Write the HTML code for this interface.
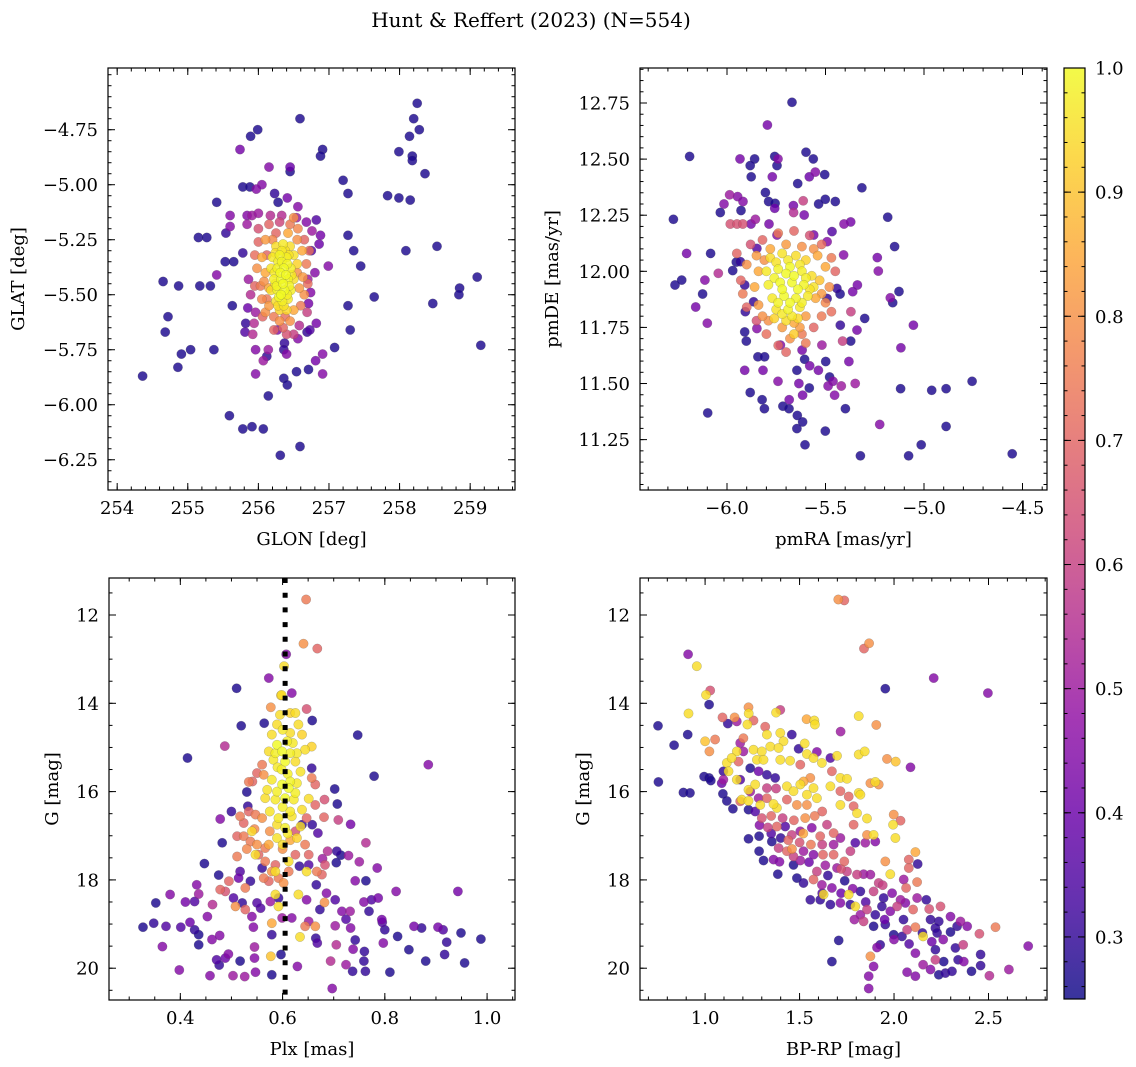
<!DOCTYPE html>
<html><head><meta charset="utf-8">
<style>
html,body{margin:0;padding:0;background:#fff;}
svg{display:block;font-family:"DejaVu Serif","Liberation Serif",serif;}
</style></head>
<body>
<svg id="fig" width="1136" height="1067" viewBox="0 0 1136 1067" xmlns="http://www.w3.org/2000/svg">
<text x="531" y="27" font-size="20" text-anchor="middle">Hunt &amp; Reffert (2023) (N=554)</text>
</svg>
<script>
// ---------- data: [x, y, membership probability] ----------
const skyStars = [[258.25,-4.63,.27],[256.59,-4.70,.27],[258.20,-4.70,.27],[258.28,-4.75,.27],[255.99,-4.75,.27],[255.89,-4.78,.27],[258.14,-4.78,.27],[255.74,-4.84,.42],[256.91,-4.84,.27],[256.88,-4.87,.27],[257.99,-4.85,.27],[258.18,-4.87,.27],[258.18,-4.89,.27],[256.15,-4.92,.45],[256.45,-4.92,.4],[256.45,-4.94,.27],[258.36,-4.95,.27],[257.20,-4.98,.27],[255.78,-5.01,.27],[255.88,-5.01,.27],[256.05,-5.00,.45],[255.97,-5.02,.45],[257.27,-5.04,.27],[256.23,-5.04,.3],[256.41,-5.06,.42],[257.83,-5.05,.27],[257.99,-5.06,.27],[258.15,-5.07,.27],[255.41,-5.08,.27],[256.28,-5.08,.27],[256.56,-5.10,.45],[255.60,-5.14,.45],[255.60,-5.19,.45],[257.27,-5.23,.27],[255.15,-5.24,.27],[255.27,-5.24,.27],[255.54,-5.22,.3],[257.35,-5.30,.27],[258.09,-5.30,.27],[258.53,-5.28,.27],[255.53,-5.35,.27],[255.65,-5.35,.27],[255.41,-5.41,.45],[256.99,-5.37,.45],[257.45,-5.37,.27],[254.65,-5.44,.27],[254.87,-5.46,.27],[255.17,-5.46,.27],[255.32,-5.46,.27],[259.10,-5.42,.27],[258.85,-5.47,.27],[258.84,-5.50,.27],[257.64,-5.51,.27],[258.47,-5.54,.27],[255.63,-5.55,.27],[257.27,-5.55,.27],[254.72,-5.60,.27],[254.68,-5.67,.27],[257.30,-5.66,.27],[254.91,-5.77,.27],[255.04,-5.75,.27],[255.37,-5.75,.27],[259.15,-5.73,.27],[254.86,-5.83,.27],[254.36,-5.87,.27],[257.08,-5.74,.27],[256.91,-5.77,.45],[256.81,-5.80,.42],[256.71,-5.84,.27],[256.54,-5.85,.27],[256.91,-5.86,.45],[255.96,-5.86,.45],[256.36,-5.88,.27],[256.41,-5.91,.27],[256.14,-5.96,.27],[255.59,-6.05,.27],[255.78,-6.11,.27],[255.91,-6.10,.27],[256.07,-6.11,.27],[256.59,-6.19,.27],[256.31,-6.23,.27],
[255.96,-5.75,.45],[256.14,-5.75,.5],[256.07,-5.80,.5],[256.12,-5.78,.3],[256.37,-5.72,.3],[256.40,-5.77,.45],[256.36,-5.75,.3],[256.56,-5.70,.45],[256.69,-5.67,.3],[256.73,-5.66,.35],[256.82,-5.63,.42],[255.82,-5.63,.3],[255.81,-5.67,.35],[255.92,-5.68,.55],[255.94,-5.63,.55],[255.96,-5.58,.5],[255.85,-5.56,.4],[256.71,-5.54,.42],[256.74,-5.49,.45],[256.75,-5.30,.35],[256.86,-5.27,.4],[256.88,-5.23,.42],[256.82,-5.16,.35],[255.78,-5.31,.3],[255.91,-5.14,.5],[255.84,-5.18,.5],[255.84,-5.14,.45],[256.0,-5.13,.5],[256.17,-5.14,.55],[256.33,-5.14,.55],[256.54,-5.15,.5],[256.68,-5.17,.45],[256.76,-5.21,.5],[255.86,-5.43,.5],[255.89,-5.5,.55],[256.8,-5.4,.45],[256.7,-5.43,.5],[256.69,-5.58,.6],[256.58,-5.64,.55],[256.27,-5.66,.45],[256.5,-5.68,.6],
[256.0,-5.2,.65],[256.15,-5.18,.7],[256.3,-5.17,.62],[256.45,-5.18,.75],[256.56,-5.2,.78],[256.65,-5.25,.7],[256.72,-5.3,.72],[256.0,-5.26,.7],[255.95,-5.32,.72],[255.98,-5.38,.8],[256.03,-5.46,.75],[255.95,-5.46,.7],[256.05,-5.52,.78],[256.1,-5.58,.8],[256.15,-5.55,.82],[256.22,-5.6,.75],[256.3,-5.62,.8],[256.38,-5.6,.72],[256.45,-5.62,.8],[256.35,-5.65,.7],[256.4,-5.68,.65],[256.22,-5.66,.7],[256.6,-5.55,.75],[256.65,-5.5,.8],[256.7,-5.45,.72],[256.63,-5.42,.82],[256.68,-5.36,.75],[256.62,-5.3,.85],[256.55,-5.25,.8],[256.1,-5.25,.82],[256.05,-5.33,.85],[256.1,-5.4,.85],[256.15,-5.47,.85],[256.12,-5.32,.7],[256.5,-5.57,.85],[256.42,-5.22,.85],[256.25,-5.22,.7],[256.06,-5.6,.7],[256.5,-5.15,.8],[256.08,-5.44,.8],[256.58,-5.47,.82],[256.2,-5.25,.78],[256.55,-5.4,.8],[256.12,-5.52,.75],
[256.25,-5.28,.95],[256.35,-5.27,.97],[256.45,-5.28,.95],[256.2,-5.33,.97],[256.3,-5.32,.99],[256.4,-5.33,.98],[256.5,-5.32,.96],[256.55,-5.36,.93],[256.18,-5.38,.96],[256.27,-5.38,.99],[256.36,-5.38,1],[256.46,-5.38,.98],[256.22,-5.43,.98],[256.32,-5.43,1],[256.42,-5.43,.99],[256.5,-5.43,.95],[256.18,-5.48,.95],[256.27,-5.48,.99],[256.37,-5.48,1],[256.46,-5.48,.98],[256.25,-5.53,.95],[256.34,-5.53,.98],[256.42,-5.52,.97],[256.3,-5.57,.93],[256.4,-5.57,.94],[256.38,-5.3,.96],[256.24,-5.45,.97],[256.44,-5.46,.99],[256.33,-5.35,.99],[256.29,-5.51,1],[256.33,-5.3,.97],[256.28,-5.35,.98],[256.41,-5.36,.99],[256.23,-5.4,.97],[256.31,-5.4,1],[256.39,-5.41,1],[256.47,-5.41,.97],[256.26,-5.46,.99],[256.35,-5.45,1],[256.41,-5.5,.98],[256.32,-5.5,1],[256.36,-5.55,.96],[256.28,-5.55,.95],[256.43,-5.32,.96],[256.24,-5.31,.95]];

const pmStars = [[-5.670,12.753,.27],[-5.795,12.652,.42],[-6.19,12.512,.27],[-5.934,12.501,.42],[-5.86,12.501,.27],[-5.882,12.471,.27],[-5.877,12.421,.27],[-5.758,12.512,.27],[-5.741,12.501,.45],[-5.746,12.471,.27],[-5.77,12.421,.42],[-5.599,12.531,.27],[-5.562,12.501,.27],[-5.504,12.431,.27],[-5.641,12.391,.27],[-5.582,12.421,.4],[-5.552,12.442,.45],[-5.315,12.372,.27],[-5.805,12.351,.27],[-5.789,12.311,.27],[-5.756,12.303,.27],[-5.758,12.281,.4],[-5.987,12.341,.5],[-5.946,12.333,.45],[-5.919,12.311,.45],[-6.015,12.3,.45],[-6.034,12.262,.27],[-5.929,12.271,.27],[-6.272,12.232,.27],[-5.663,12.293,.42],[-5.613,12.314,.6],[-5.662,12.262,.55],[-5.608,12.251,.42],[-5.501,12.321,.27],[-5.45,12.311,.27],[-5.535,12.3,.27],[-5.184,12.241,.27],[-5.983,12.211,.65],[-5.949,12.211,.65],[-5.92,12.211,.65],[-5.878,12.211,.42],[-5.856,12.232,.5],[-5.787,12.211,.42],[-5.372,12.22,.42],[-5.406,12.211,.45],[-5.149,12.11,.27],[-6.205,12.08,.42],[-6.083,12.08,.27],[-5.237,12.061,.42],[-5.232,12.001,.45],[-6.044,11.991,.55],[-5.971,12.003,.27],[-5.953,12.041,.27],[-6.264,11.939,.27],[-6.23,11.961,.27],[-6.112,11.961,.45],[-6.124,11.899,.27],[-6.159,11.841,.42],[-6.1,11.769,.45],[-5.127,11.91,.27],[-5.171,11.882,.45],[-5.159,11.86,.27],[-5.301,11.79,.27],[-5.054,11.76,.42],[-5.117,11.659,.42],[-5.338,11.939,.42],[-5.362,11.909,.42],[-5.426,11.899,.27],[-5.371,11.82,.6],[-5.34,11.738,.42],[-5.372,11.689,.27],[-5.413,11.689,.6],[-5.91,11.73,.27],[-5.902,11.689,.27],[-5.843,11.619,.27],[-5.809,11.619,.27],[-5.91,11.559,.42],[-5.817,11.559,.42],[-5.741,11.51,.45],[-5.882,11.46,.27],[-5.822,11.428,.27],[-5.81,11.388,.27],[-5.716,11.399,.27],[-5.684,11.428,.42],[-5.685,11.388,.27],[-5.645,11.559,.27],[-5.606,11.608,.27],[-5.58,11.579,.42],[-5.499,11.598,.27],[-5.536,11.559,.42],[-5.479,11.529,.27],[-5.462,11.51,.45],[-5.487,11.489,.45],[-5.42,11.489,.5],[-5.349,11.5,.5],[-5.381,11.598,.42],[-5.635,11.5,.42],[-5.582,11.48,.27],[-5.616,11.448,.42],[-5.454,11.448,.45],[-5.399,11.388,.27],[-5.643,11.358,.27],[-5.616,11.329,.27],[-5.645,11.299,.27],[-5.501,11.288,.27],[-5.604,11.227,.27],[-5.225,11.318,.45],[-5.119,11.477,.27],[-4.961,11.47,.27],[-4.888,11.477,.27],[-4.756,11.51,.27],[-4.888,11.309,.27],[-5.014,11.227,.27],[-5.078,11.178,.27],[-5.323,11.178,.27],[-6.098,11.369,.27],[-4.552,11.187,.27],
[-5.932,12.043,.3],[-5.91,11.939,.3],[-5.865,11.864,.3],[-5.907,11.82,.3],[-5.492,11.879,.3],[-5.442,11.924,.3],[-5.425,11.76,.3],[-5.848,11.745,.45],[-5.729,11.671,.45],[-5.619,11.649,.42],[-5.518,11.671,.5],[-5.56,12.162,.42],[-5.492,12.132,.45],[-5.408,12.073,.45],[-5.467,12.177,.35],[-5.848,12.102,.35],[-5.746,12.162,.45],
[-5.88,12.12,.65],[-5.82,12.14,.7],[-5.74,12.17,.75],[-5.66,12.18,.7],[-5.58,12.16,.65],[-5.52,12.12,.72],[-5.47,12.06,.75],[-5.45,12.0,.7],[-5.48,11.93,.8],[-5.5,11.86,.78],[-5.52,11.8,.75],[-5.56,11.75,.7],[-5.62,11.72,.75],[-5.68,11.7,.8],[-5.74,11.67,.7],[-5.8,11.72,.72],[-5.85,11.78,.65],[-5.9,11.84,.7],[-5.92,11.9,.75],[-5.93,11.96,.7],[-5.9,12.03,.8],[-5.85,12.07,.82],[-5.78,12.1,.85],[-5.7,12.12,.82],[-5.62,12.11,.8],[-5.54,12.07,.85],[-5.5,12.02,.85],[-5.53,11.96,.9],[-5.55,11.88,.85],[-5.6,11.8,.82],[-5.66,11.77,.85],[-5.72,11.75,.82],[-5.79,11.78,.8],[-5.84,11.85,.82],[-5.86,11.93,.85],[-5.84,12.0,.85],[-5.6,11.68,.75],[-5.7,11.64,.7],[-5.47,11.82,.72],[-5.95,12.08,.7],[-5.81,12.05,.8],[-5.56,12.1,.8],[-5.52,11.9,.82],[-5.63,11.75,.82],[-5.82,11.8,.8],
[-5.78,12.06,.95],[-5.72,12.08,.96],[-5.65,12.07,.95],[-5.6,12.05,.93],[-5.8,12.0,.97],[-5.74,12.01,.99],[-5.68,12.02,1],[-5.62,12.0,.98],[-5.57,11.98,.95],[-5.79,11.94,.98],[-5.73,11.95,1],[-5.67,11.95,1],[-5.61,11.94,.99],[-5.56,11.93,.96],[-5.77,11.88,.97],[-5.71,11.89,1],[-5.65,11.88,.99],[-5.59,11.89,.97],[-5.75,11.83,.96],[-5.69,11.83,.99],[-5.63,11.84,.97],[-5.7,11.78,.95],[-5.64,11.79,.94],[-5.76,11.79,.93],[-5.66,11.72,.92],[-5.7,11.99,1],[-5.64,11.92,1],[-5.72,11.92,1],[-5.76,11.97,.99],[-5.66,11.98,1],[-5.6,11.97,.98],[-5.74,11.86,.99],[-5.68,11.86,1],[-5.62,11.86,.98],[-5.72,11.81,.97],[-5.67,11.8,.97],[-5.69,12.05,.97],[-5.63,12.03,.97],[-5.75,12.04,.96],[-5.58,11.92,.96]];

const plxStars = [[0.646,11.65,.75],[0.641,12.65,.8],[0.668,12.76,.7],[0.607,12.89,.45],[0.603,13.16,.95],[0.573,13.43,.45],[0.510,13.66,.27],[0.618,13.77,.45],[0.598,13.81,.95],[0.564,14.45,.27],[0.519,14.51,.27],[0.747,14.72,.27],[0.487,14.97,.55],[0.414,15.24,.27],[0.885,15.39,.45],[0.779,15.65,.27],[0.702,15.94,.27],[0.707,16.28,.27],[0.658,14.39,.27],[0.647,14.13,.65],[0.577,14.09,.8],
[0.327,19.07,.27],[0.348,18.98,.3],[0.372,19.05,.35],[0.401,19.07,.35],[0.419,18.96,.4],[0.428,19.13,.3],[0.436,19.24,.27],[0.436,19.47,.27],[0.365,19.51,.45],[0.398,20.04,.45],[0.458,20.17,.45],[0.471,19.81,.35],[0.476,19.93,.3],[0.488,19.77,.4],[0.494,19.68,.45],[0.517,19.84,.27],[0.462,19.35,.45],[0.477,19.26,.45],[0.453,18.83,.45],[0.463,18.56,.55],[0.352,18.52,.27],[0.38,18.33,.45],[0.41,18.5,.42],[0.428,18.49,.35],[0.432,18.11,.45],[0.436,18.32,.5],[0.447,17.63,.27],[0.475,17.89,.27],[0.503,20.17,.5],[0.526,20.19,.5],[0.547,20.09,.45],[0.545,19.77,.45],[0.545,19.52,.5],[0.543,19.07,.45],[0.579,20.15,.27],[0.597,19.69,.27],[0.579,19.24,.3],[0.54,18.83,.45],[0.557,18.64,.35],[0.576,18.49,.5],[0.629,19.96,.45],[0.651,18.94,.5],[0.668,19.43,.35],[0.665,19.32,.3],[0.694,19.84,.55],[0.697,20.46,.45],[0.705,19.47,.55],[0.703,19.04,.5],[0.724,19.92,.5],[0.737,20.07,.3],[0.76,19.62,.3],[0.762,20.07,.3],[0.759,19.84,.3],[0.742,19.36,.3],[0.738,19.57,.45],[0.724,18.89,.35],[0.733,19.09,.45],[0.732,18.71,.5],[0.716,18.71,.45],[0.759,18.5,.45],[0.769,18.71,.3],[0.774,18.45,.35],[0.787,18.41,.42],[0.794,18.9,.42],[0.8,19.13,.3],[0.795,18.96,.35],[0.797,19.43,.45],[0.81,20.09,.27],[0.825,19.28,.27],[0.847,19.58,.27],[0.857,19.05,.42],[0.872,19.09,.3],[0.88,19.84,.27],[0.904,19.07,.42],[0.914,19.13,.35],[0.921,19.41,.3],[0.917,19.69,.3],[0.949,19.2,.27],[0.956,19.88,.27],[0.988,19.34,.27],[0.943,18.26,.42],[0.822,18.26,.45],[0.785,17.73,.45],[0.763,18.02,.27],[0.742,18.02,.45],[0.75,17.59,.5],[0.763,17.16,.55],[0.733,16.74,.42],[0.709,16.64,.6],[0.681,16.58,.7],[0.714,17.44,.27],[0.729,17.45,.5],[0.705,17.61,.27],[0.688,17.35,.55],[0.678,17.52,.5],[0.666,18.11,.3],[0.482,17.16,.27],[0.478,16.62,.45],[0.5,16.45,.3],[0.53,16.01,.27],[0.532,16.33,.3],[0.657,15.47,.3],[0.638,16.75,.3],[0.658,16.75,.3],[0.669,16.94,.35],[0.706,17.35,.3],[0.651,17.66,.35],[0.633,17.69,.3],[0.56,17.73,.3],[0.517,17.81,.35],[0.514,17.96,.4],[0.537,18.03,.3],[0.504,18.41,.35],[0.521,18.52,.3],[0.55,18.52,.35],[0.592,18.41,.3],[0.618,18.86,.45],[0.599,18.86,.5],[0.673,18.67,.3],[0.647,18.45,.45],[0.686,18.3,.45],[0.703,18.45,.35],
[0.534,15.78,.75],[0.541,15.77,.7],[0.55,15.58,.7],[0.56,15.39,.75],[0.563,15.62,.8],[0.657,15.69,.75],[0.664,15.84,.7],[0.682,16.18,.65],[0.534,16.45,.7],[0.547,16.52,.75],[0.56,16.6,.8],[0.517,16.56,.75],[0.524,16.71,.7],[0.511,17.01,.7],[0.524,17.01,.75],[0.537,17.13,.75],[0.55,17.2,.8],[0.566,17.28,.75],[0.573,17.2,.85],[0.553,17.43,.7],[0.566,17.58,.75],[0.579,17.81,.8],[0.586,17.66,.7],[0.592,17.96,.75],[0.602,18.07,.8],[0.563,17.96,.75],[0.573,18.03,.7],[0.511,17.47,.75],[0.495,18.03,.7],[0.478,18.22,.7],[0.488,18.26,.65],[0.508,18.6,.8],[0.527,18.67,.7],[0.527,18.18,.75],[0.612,17.81,.75],[0.625,17.43,.7],[0.644,17.2,.75],[0.651,17.43,.7],[0.667,17.81,.75],[0.677,17.88,.7],[0.683,17.66,.65],[0.625,16.9,.65],[0.647,16.6,.7],[0.664,16.3,.7],[0.579,18.98,.85],[0.577,19.73,.9],[0.644,19.05,.75],[0.664,19.05,.8],[0.682,18.51,.8],[0.631,18.33,.95],[0.586,18.33,.95],[0.592,18.6,.95],[0.634,19.29,.95],[0.647,17.81,.95],[0.612,17.58,.95],[0.547,17.43,.95],[0.586,17.81,.95],[0.575,16.9,.8],[0.545,16.85,.78],[0.6,17.3,.8],[0.615,17.1,.85],[0.53,17.3,.78],
[0.595,14.26,.95],[0.615,14.22,.93],[0.625,14.22,.95],[0.589,14.48,.95],[0.631,14.48,.95],[0.579,14.71,.95],[0.615,14.67,.95],[0.638,14.71,.93],[0.589,14.94,1],[0.609,14.86,.98],[0.657,14.98,.93],[0.573,15.09,.95],[0.586,15.13,.98],[0.599,15.09,1],[0.615,15.13,.98],[0.628,15.13,.97],[0.644,15.05,.95],[0.582,15.28,.97],[0.625,15.32,.95],[0.605,15.32,1],[0.579,15.73,.97],[0.599,15.84,1],[0.615,15.77,.99],[0.628,15.81,.97],[0.57,15.96,.96],[0.589,16.0,.98],[0.612,15.92,1],[0.625,16.03,.98],[0.566,16.15,.95],[0.586,16.18,.97],[0.605,16.15,1],[0.622,16.18,.97],[0.651,16.16,.95],[0.592,16.6,.97],[0.589,16.75,.95],[0.605,16.82,.98],[0.618,16.56,.96],[0.638,16.41,.95],[0.635,16.79,.95],[0.628,17.05,.93],[0.589,17.05,.96],[0.54,16.9,.94],[0.597,13.82,.92],[0.6,14.6,.97],[0.62,14.9,.97],[0.598,15.5,.98],[0.61,15.6,.98],[0.59,15.45,.97],[0.635,15.55,.96],[0.6,16.35,.98],[0.615,16.45,.97],[0.6,17.2,.95],[0.61,16.95,.97],[0.575,16.45,.96]];

const cmdStars = [[1.705,11.65,.8],[1.737,11.67,.7],[1.868,12.64,.8],[1.841,12.76,.7],[0.910,12.89,.45],[0.956,13.16,.95],[2.210,13.43,.45],[2.497,13.77,.45],[1.954,13.67,.27],[1.005,13.81,.95],[1.027,13.71,.65],[1.021,14.03,.27],[0.912,14.23,.95],[0.751,14.51,.27],[0.753,15.78,.27],[0.836,14.95,.27],[0.908,14.71,.27],[0.885,16.02,.27],[0.92,16.03,.27],[1.813,14.29,.95],[1.906,14.49,.8],[1.537,14.36,.85],[1.578,14.39,.95],[1.581,14.48,.95],[1.717,14.64,.5],[2.087,15.45,.45],[2.009,15.32,.9],[1.963,15.26,.8],[2.71,19.5,.45],[2.608,20.03,.5],[2.505,20.17,.55],[2.537,19.07,.75],[2.452,19.22,.65],
[1.0,14.86,.9],[1.023,15.09,.8],[1.053,14.82,.75],[1.092,14.32,.7],[1.156,14.32,.8],[1.23,14.09,.8],[1.231,14.23,.95],[1.224,14.48,.95],[1.256,14.39,.7],[1.318,14.53,.7],[1.376,14.21,.95],[1.398,14.15,.6],[1.12,14.46,.3],[1.168,14.41,.5],[1.327,14.71,.95],[1.398,14.67,.95],[1.415,14.86,.95],[1.459,14.71,.3],[1.495,15.03,.3],[1.527,14.91,.95],[1.203,14.79,.75],[1.186,14.9,.5],[1.256,15.05,.95],[1.3,15.09,.95],[1.345,14.98,.95],[1.389,15.01,.95],[1.168,15.09,.95],[1.203,15.09,.5],[1.274,15.28,.95],[1.309,15.28,.95],[1.115,15.35,.95],[1.141,15.24,.95],[1.177,15.32,.7],[1.124,15.54,.95],[1.097,15.54,.3],[1.097,15.73,.5],[1.168,15.73,.95],[1.23,15.96,.95],[1.265,15.84,.95],[1.194,16.18,.95],[1.23,16.21,.95],[1.186,16.22,.7],[1.398,15.28,.95],[1.45,15.3,.95],[1.504,15.39,.7],[1.539,15.15,.95],[1.574,15.24,.95],[1.618,15.35,.95],[1.592,15.1,.45],[1.663,15.24,.35],[1.698,15.19,.95],[1.813,15.16,.95],[1.845,15.09,.95],[1.716,15.69,.95],[1.751,15.71,.95],[1.671,15.54,.7],[1.557,15.69,.8],[1.521,15.77,.85],[1.504,15.84,.95],[1.574,15.92,.95],[1.663,15.88,.95],[1.716,15.99,.7],[1.76,16.11,.7],[1.813,16.03,.95],[1.822,16.07,.95],[1.875,15.81,.8],[1.901,15.78,.95],[1.919,15.84,.8],[1.433,15.88,.95],[1.468,15.99,.95],[1.539,16.07,.95],[1.592,16.15,.95],[1.433,16.18,.7],[1.486,16.3,.8],[1.539,16.3,.8],[1.38,16.37,.95],[1.362,16.28,.95],[1.327,16.15,.7],[1.292,16.3,.95],[1.786,16.33,.7],[1.804,16.49,.95],[1.857,16.61,.95],[1.786,16.75,.7],[1.998,16.52,.8],[2.034,16.66,.7],[1.995,16.75,.95],[2.007,17.05,.95],[1.892,16.98,.95],[2.113,17.37,.85],[1.954,17.58,.8],[1.98,17.87,.95],[2.078,17.54,.7],[2.125,17.64,.3],[2.078,17.73,.7],[2.122,18.05,.75],[1.716,16.3,.95],[1.857,16.98,.8],
[1.088,15.81,.4],[1.094,16.05,.27],[1.115,16.21,.27],[1.147,16.39,.27],[0.995,15.66,.27],[1.021,15.69,.27],[1.03,15.75,.27],[1.186,15.73,.35],[1.239,15.47,.27],[1.283,15.54,.4],[1.327,15.62,.3],[1.371,15.69,.3],[1.327,15.92,.6],[1.376,15.93,.6],[1.239,16.0,.5],[1.283,16.15,.5],[1.23,16.41,.27],[1.265,16.45,.35],[1.288,16.76,.45],[1.332,16.81,.6],[1.38,16.79,.7],[1.424,16.79,.35],[1.459,16.98,.6],[1.504,16.9,.5],[1.565,16.82,.45],[1.609,17.01,.7],[1.645,16.75,.6],[1.68,16.94,.7],[1.716,17.05,.5],[1.23,17.07,.27],[1.286,17.01,.27],[1.353,17.13,.27],[1.389,17.28,.6],[1.433,17.35,.7],[1.468,17.47,.6],[1.521,17.35,.5],[1.574,17.43,.45],[1.624,17.43,.7],[1.68,17.43,.7],[1.737,17.58,.7],[1.769,17.35,.6],[1.795,17.16,.35],[1.848,17.16,.5],[1.901,17.13,.45],[1.286,17.35,.27],[1.309,17.56,.27],[1.362,17.54,.45],[1.394,17.59,.45],[1.468,17.66,.27],[1.504,17.56,.5],[1.592,17.81,.6],[1.636,17.67,.5],[1.698,17.73,.5],[1.751,17.81,.6],[1.804,17.88,.6],[1.839,17.87,.5],[1.875,17.88,.5],[1.919,18.07,.6],[1.385,17.87,.27],[1.486,17.96,.27],[1.521,18.07,.3],[1.574,17.99,.7],[1.618,18.11,.5],[1.671,18.18,.45],[1.739,18.02,.27],[1.781,18.2,.45],[1.822,18.26,.3],[1.892,18.26,.6],[1.945,18.41,.3],[1.99,18.3,.45],[2.034,18.45,.5],[2.051,17.99,.5],[2.064,18.18,.7],[2.122,18.41,.5],[1.557,18.45,.3],[1.609,18.45,.3],[1.627,18.33,.95],[1.663,18.56,.3],[1.716,18.52,.45],[1.76,18.33,.95],[1.795,18.6,.95],[1.769,18.56,.3],[1.822,18.79,.5],[1.857,18.67,.6],[1.901,18.79,.3],[1.936,18.6,.3],[1.98,18.71,.45],[2.016,18.6,.6],[2.06,18.52,.45],[2.101,18.67,.7],[2.171,18.45,.3],[2.186,18.66,.65],[2.246,18.6,.65],[2.193,18.9,.3],[2.237,18.94,.3],[2.299,18.83,.45],[2.352,18.94,.5],[2.387,19.05,.45],[2.334,19.05,.3],[2.219,19.09,.3],[1.839,18.94,.6],[1.892,19.05,.27],[1.954,19.01,.3],[1.998,19.24,.27],[2.042,19.28,.3],[2.069,19.13,.6],[2.113,19.07,.75],[2.154,19.28,.95],[1.927,19.47,.3],[1.91,19.53,.45],[1.875,19.73,.8],[1.892,19.96,.45],[1.866,20.18,.45],[1.866,20.46,.45],[1.707,19.37,.27],[1.671,19.85,.27],[2.113,19.66,.45],[2.154,19.92,.5],[2.069,20.09,.45],[2.113,20.18,.45],[2.193,20.03,.45],[2.219,19.81,.6],[2.237,20.15,.27],[2.272,20.11,.3],[2.307,20.07,.3],[2.263,19.85,.27],[2.219,19.58,.3],[2.26,19.35,.45],[2.325,19.54,.3],[2.366,19.47,.6],[2.339,19.81,.3],[2.369,19.85,.45],[2.458,19.69,.3],[2.458,19.94,.3],[2.41,20.07,.27],[2.299,19.18,.27],[2.228,19.2,.3],
[1.35,16.55,.7],[1.41,16.6,.6],[1.47,16.65,.7],[1.53,16.6,.8],[1.58,16.55,.75],[1.62,16.45,.7],[1.44,17.1,.7],[1.5,17.15,.65],[1.56,17.2,.75],[1.62,17.2,.6],[1.68,17.2,.5],[1.4,17.05,.3],[1.35,16.95,.35],[1.55,17.6,.4],[1.65,17.9,.3],[1.72,18.3,.4],[1.85,18.5,.35],[1.95,18.9,.4],[2.05,18.9,.3],[2.15,19.2,.3],[2.2,19.4,.4],[2.08,19.45,.35],[2.0,19.35,.45],[1.79,18.9,.5],[1.94,18.12,.6],[1.72,17.75,.65],[1.46,17.3,.8],[1.52,16.95,.85],[1.3,16.6,.65],[1.62,18.3,.35]];

// tick values
const skyXTicks = [254,255,256,257,258,259];
const skyYTicks = [-4.75,-5.00,-5.25,-5.50,-5.75,-6.00,-6.25];
const pmXTicks = [-6.0,-5.5,-5.0,-4.5];
const pmYTicks = [12.75,12.50,12.25,12.00,11.75,11.50,11.25];
const plxXTicks = [0.4,0.6,0.8,1.0];
const magYTicks = [12,14,16,18,20];
const cmdXTicks = [1.0,1.5,2.0,2.5];
const cbarTicks = [0.3,0.4,0.5,0.6,0.7,0.8,0.9,1.0];
const plxReference = [0.605];

// ---------- rendering ----------
const NS = "http://www.w3.org/2000/svg";
const svg = document.getElementById('fig');
function mk(tag, attrs, parent) {
  const e = document.createElementNS(NS, tag);
  for (const k in attrs) e.setAttribute(k, attrs[k]);
  (parent || svg).appendChild(e);
  return e;
}
const plasma = ['#0d0887','#41049d','#6a00a8','#8f0da4','#b12a90','#cc4778','#e16462','#f2844b','#fca636','#fcce25','#f0f921'];
function hex(h){return [parseInt(h.substr(1,2),16),parseInt(h.substr(3,2),16),parseInt(h.substr(5,2),16)];}
function cmap(p){
  let t = (p-0.25)/0.75; t=Math.max(0,Math.min(1,t));
  const f=t*10, i=Math.min(9,Math.floor(f)), u=f-i;
  const a=hex(plasma[i]), b=hex(plasma[i+1]);
  return 'rgb('+a.map((v,k)=>Math.round(v+(b[k]-v)*u)).join(',')+')';
}
function fmt(v,d){const s=v.toFixed(d);return v<0?'\u2212'+s.slice(1):s;}
const FS = 18;

function panel(cfg){
  const g = mk('g',{});
  
  
  const {L,T,R,B,x0,x1,y0,y1} = cfg;
  const sx = v => L + (v-x0)/(x1-x0)*(R-L);
  const sy = v => T + (v-y0)/(y1-y0)*(B-T);
  const clipId = 'clip-'+cfg.name;
  const cp = mk('clipPath',{id:clipId},g); mk('rect',{x:L,y:T,width:R-L,height:B-T},cp);
  const pts = mk('g',{'clip-path':'url(#'+clipId+')'},g);
  
  
  const sorted = cfg.data.slice().sort((a,b)=>a[2]-b[2]);
  for (const d of sorted){
    const c = mk('circle',{cx:sx(d[0]).toFixed(1),cy:sy(d[1]).toFixed(1),r:4.7,fill:cmap(d[2]),'fill-opacity':0.82,stroke:'#555','stroke-opacity':0.5,'stroke-width':0.4},pts);
    
    
  }
  if (cfg.vline) for (const v of cfg.vline){
    const l = mk('line',{x1:sx(v),x2:sx(v),y1:T,y2:B,stroke:'#000','stroke-width':5,'stroke-dasharray':'5 9.7'},pts);
    
    
  }
  mk('rect',{x:L,y:T,width:R-L,height:B-T,fill:'none',stroke:'#000','stroke-width':1.2},g);
  const tk = mk('g',{stroke:'#000','stroke-width':1},g);
  for (let v=Math.ceil(x0/cfg.xm-1e-9)*cfg.xm; v<=x1+1e-9; v+=cfg.xm){
    const x=sx(v); mk('line',{x1:x,x2:x,y1:B,y2:B-3.5},tk); mk('line',{x1:x,x2:x,y1:T,y2:T+3.5},tk);
  }
  const ylo=Math.min(y0,y1), yhi=Math.max(y0,y1);
  for (let v=Math.ceil(ylo/cfg.ym-1e-9)*cfg.ym; v<=yhi+1e-9; v+=cfg.ym){
    const y=sy(v); mk('line',{x1:L,x2:L+3.5,y1:y,y2:y},tk); mk('line',{x1:R,x2:R-3.5,y1:y,y2:y},tk);
  }
  for (const v of cfg.xt){
    const x=sx(v); mk('line',{x1:x,x2:x,y1:B,y2:B-7},tk); mk('line',{x1:x,x2:x,y1:T,y2:T+7},tk);
    const t=mk('text',{x:x,y:B+24,'font-size':FS,'text-anchor':'middle'},g); t.textContent=fmt(v,cfg.xd);
     
  }
  for (const v of cfg.yt){
    const y=sy(v); mk('line',{x1:L,x2:L+7,y1:y,y2:y},tk); mk('line',{x1:R,x2:R-7,y1:y,y2:y},tk);
    const t=mk('text',{x:L-10,y:y+6.5,'font-size':FS,'text-anchor':'end'},g); t.textContent=fmt(v,cfg.yd);
     
  }
  const xl=mk('text',{x:(L+R)/2,y:B+55,'font-size':FS,'text-anchor':'middle'},g); xl.textContent=cfg.xlab;
   
  const yl=mk('text',{x:0,y:0,'font-size':FS,'text-anchor':'middle',transform:'translate('+cfg.ylx+','+((T+B)/2)+') rotate(-90)'},g); yl.textContent=cfg.ylab;
   
}

panel({name:'sky-position-panel',L:108,T:68,R:515,B:490,x0:253.87,x1:259.635,y0:-4.4695,y1:-6.3875,xm:0.2,ym:0.05,xt:skyXTicks,yt:skyYTicks,xd:0,yd:2,xlab:'GLON [deg]',ylab:'GLAT [deg]',ylx:24,data:skyStars});
panel({name:'proper-motion-panel',L:640,T:68,R:1047,B:490,x0:-6.4416,x1:-4.3756,y0:12.906,y1:11.0255,xm:0.1,ym:0.05,xt:pmXTicks,yt:pmYTicks,xd:1,yd:2,xlab:'pmRA [mas/yr]',ylab:'pmDE [mas/yr]',ylx:558,data:pmStars});
panel({name:'parallax-magnitude-panel',L:109,T:578,R:515,B:1000,x0:0.2605,x1:1.0546,y0:11.162,y1:20.72,xm:0.05,ym:0.5,xt:plxXTicks,yt:magYTicks,xd:1,yd:0,xlab:'Plx [mas]',ylab:'G [mag]',ylx:58,data:plxStars,vline:plxReference});
panel({name:'color-magnitude-panel',L:640,T:578,R:1047,B:1000,x0:0.6555,x1:2.8096,y0:11.162,y1:20.72,xm:0.1,ym:0.5,xt:cmdXTicks,yt:magYTicks,xd:1,yd:0,xlab:'BP-RP [mag]',ylab:'G [mag]',ylx:589,data:cmdStars});

(function(){
  const L=1064,R=1085,T=68,B=999, v0=0.25, v1=1.0;
  const cy=v=>B-(v-v0)/(v1-v0)*(B-T);
  const g=mk('g',{});
  
  
  const defs=mk('defs',{},g);
  const lg=mk('linearGradient',{id:'cbgrad',x1:0,y1:1,x2:0,y2:0},defs);
  for(let i=0;i<=20;i++){const p=v0+(v1-v0)*i/20; mk('stop',{offset:(i/20),'stop-color':cmap(p),'stop-opacity':0.82},lg);}
  mk('rect',{x:L,y:T,width:R-L,height:B-T,fill:'url(#cbgrad)'},g);
  mk('rect',{x:L,y:T,width:R-L,height:B-T,fill:'none',stroke:'#000','stroke-width':1.2},g);
  const tk=mk('g',{stroke:'#000','stroke-width':1},g);
  for(let v=0.26;v<=1.0001;v+=0.02){const y=cy(v);mk('line',{x1:R,x2:R-3.5,y1:y,y2:y},tk);mk('line',{x1:L,x2:L+3.5,y1:y,y2:y},tk);}
  for(const v of cbarTicks){const y=cy(v);mk('line',{x1:R,x2:R-7,y1:y,y2:y},tk);mk('line',{x1:L,x2:L+7,y1:y,y2:y},tk);
    const t=mk('text',{x:R+10,y:y+6.5,'font-size':FS},g);t.textContent=v.toFixed(1);
     }
})();
</script>
</body></html>
